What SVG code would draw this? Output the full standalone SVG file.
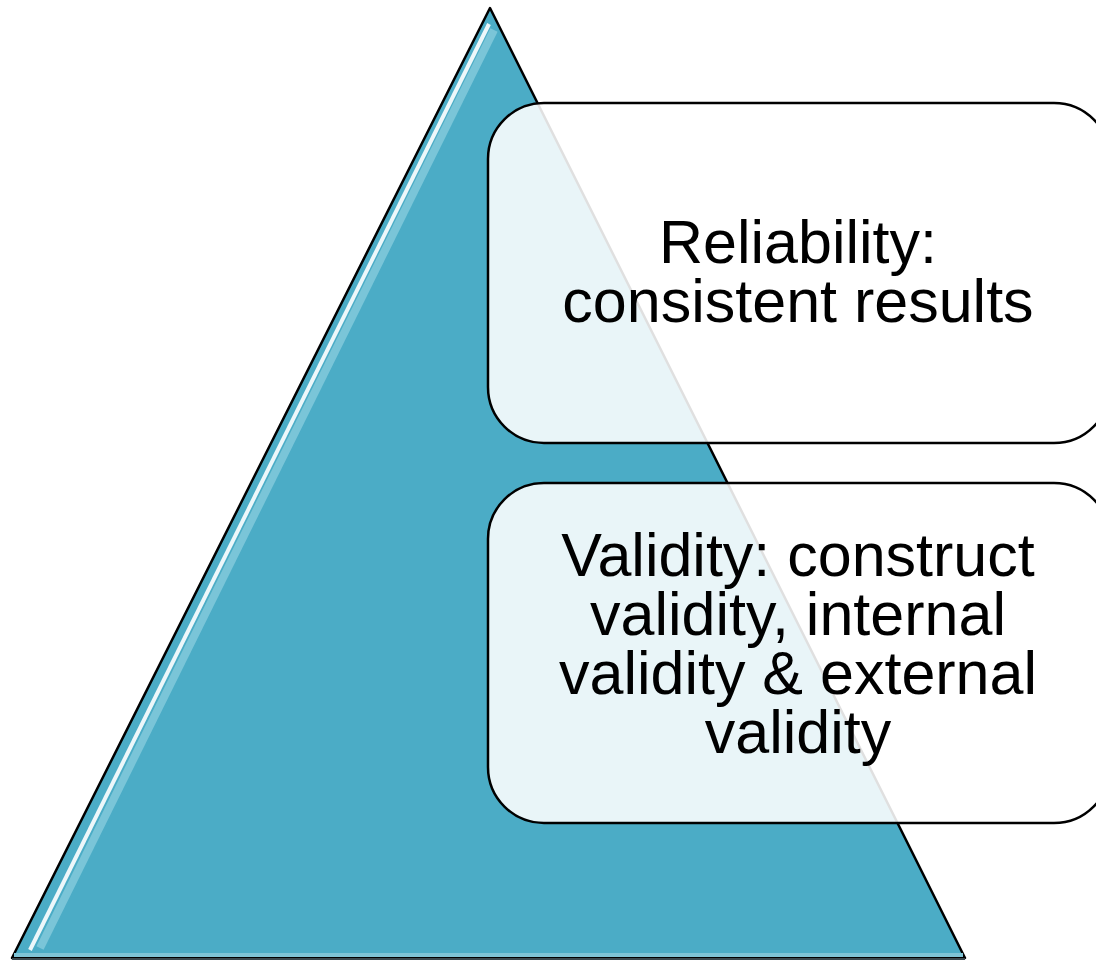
<svg xmlns="http://www.w3.org/2000/svg" width="1096" height="960" viewBox="0 0 1096 960">
<defs>
<style>
.box{fill:#ffffff;fill-opacity:0.88;stroke:#000;stroke-width:2.5}
.t{font-family:"Liberation Sans",Arial,sans-serif;font-size:61px;fill:#000;text-anchor:middle}
</style>
</defs>
<rect width="1096" height="960" fill="#fff"/>
<g id="pyramid">
<polygon points="490,8 965,958 12,958" fill="#4BACC6" stroke="#000" stroke-width="2.5" stroke-linejoin="round"/>
<polyline points="494,30 40,948" fill="none" stroke="#8fd0e0" stroke-width="8" stroke-opacity="0.7"/>
<polyline points="489,24 30,950" fill="none" stroke="#ffffff" stroke-width="4" stroke-opacity="0.9"/>
<line x1="14" y1="955" x2="963" y2="955" stroke="#7fc4d6" stroke-width="4"/>
<line x1="12" y1="959" x2="965" y2="959" stroke="#3c4a50" stroke-width="2"/>
</g>
<g id="reliability">
<rect class="box" x="488" y="103" width="622" height="340" rx="56" ry="56"/>
<text class="t" x="798" y="263">Reliability:</text>
<text class="t" x="798" y="322">consistent results</text>
</g>
<g id="validity">
<rect class="box" x="488" y="483" width="622" height="340" rx="56" ry="56"/>
<text class="t" x="798" y="576">Validity: construct</text>
<text class="t" x="798" y="635">validity, internal</text>
<text class="t" x="798" y="694">validity &amp; external</text>
<text class="t" x="798" y="753">validity</text>
</g>
<g id="connectors"/>
</svg>
